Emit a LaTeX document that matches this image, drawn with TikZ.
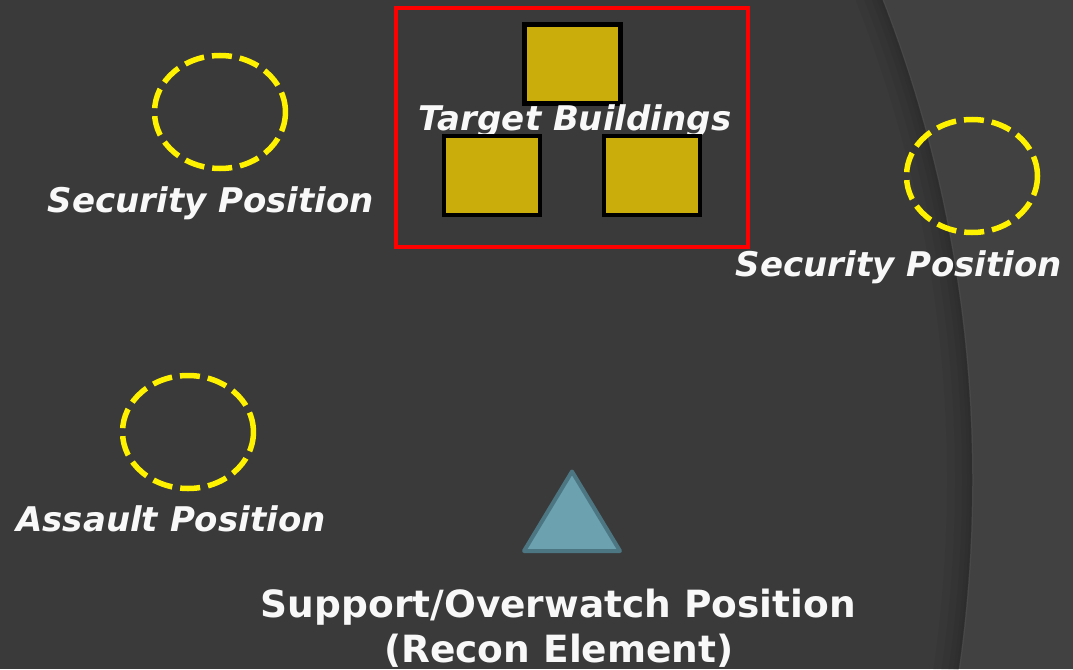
\documentclass[tikz,border=0pt]{standalone}
\usepackage{fontspec}
\setmainfont{DejaVu Sans}
\usetikzlibrary{shapes.geometric}
\definecolor{bgR}{HTML}{414141}
\definecolor{bgL}{HTML}{3A3A3A}
\definecolor{gold}{HTML}{CAAD0B}
\definecolor{triF}{HTML}{6CA1B0}
\definecolor{triD}{HTML}{4D7683}
\definecolor{txt}{HTML}{F8F8F8}
\begin{document}
\begin{tikzpicture}[x=1pt,y=-1pt,
  posn/.style={ellipse, draw=yellow, line width=5.5pt, dash pattern=on 20pt off 8pt,
    minimum width=131pt, minimum height=113pt, inner sep=0pt},
  bldg/.style={rectangle, draw=black, fill=gold, line width=4.5pt,
    minimum width=96pt, minimum height=79pt, inner sep=0pt},
  lbl/.style={text=txt, font=\fontsize{34}{40}\selectfont\bfseries\itshape, inner sep=0pt, anchor=base},
  big/.style={text=txt, font=\fontsize{37.5}{45}\selectfont\bfseries, inner sep=0pt, anchor=base},
  tri/.style={fill=triF, draw=triD, line width=4pt, line join=round}]
\useasboundingbox (0,0) rectangle (1073,669);
% background
\fill[bgR] (0,0) rectangle (1073,669);
\begin{scope}
  \clip (-353,480) circle (1325pt);
  \fill[bgL] (0,0) rectangle (1073,669);
  \foreach \w in {50,34,20,10,4}{
    \draw[black, opacity=0.04, line width=\w pt] (-353,480) circle (1325pt);
  }
\end{scope}
\draw[white, opacity=0.04, line width=1pt] (-352,480) circle (1325pt);
% target area
\node[rectangle, draw=red, line width=4pt, minimum width=352pt, minimum height=239pt, inner sep=0pt] (area) at (572,127.5) {};
\node[bldg] (b1) at (572.5,64) {};
\node[lbl] (tlabel) at (575,130) {Target Buildings};
\node[bldg] (b2) at (492,175.5) {};
\node[bldg] (b3) at (652,175.5) {};
% positions
\node[posn] (sec1) at (220,112) {};
\node[lbl] (sec1l) at (211,212) {Security Position};
\node[posn] (sec2) at (972,176) {};
\node[lbl] (sec2l) at (899,276) {Security Position};
\node[posn] (asl) at (188,432) {};
\node[lbl] (asll) at (171,531) {Assault Position};
% support
\coordinate (tA) at (572,471.5);
\coordinate (tB) at (524,551);
\coordinate (tC) at (620,551);
\filldraw[tri] (tA) -- (tB) -- (tC) -- cycle;
\node[big] (sup1) at (558.5,617) {Support/Overwatch Position};
\node[big] (sup2) at (559,662) {(Recon Element)};
\end{tikzpicture}
\end{document}
